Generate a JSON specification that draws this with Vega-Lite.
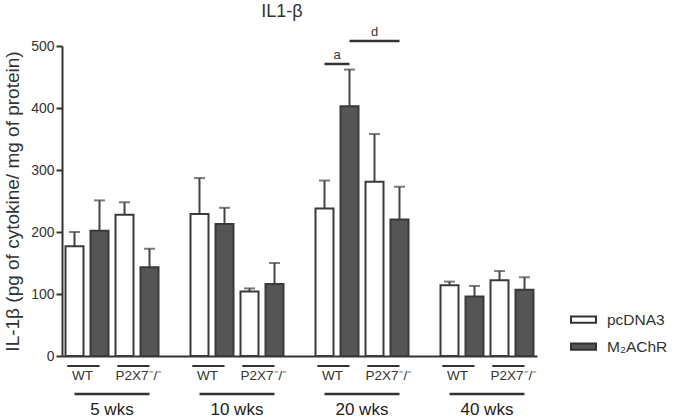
{
  "$schema": "https://vega.github.io/schema/vega-lite/v6.json",
  "background": "white",
  "padding": {"left": 3, "top": 3, "right": 5, "bottom": 0},
  "bounds": "flush",
  "spacing": 10,
  "config": {"view": {"stroke": null}, "font": "Liberation Sans", "axis": {"grid": false}},
  "title": {"text": "IL1-β", "fontSize": 18, "fontWeight": "normal", "color": "#333", "anchor": "start", "dx": 258, "offset": 5},
  "datasets": {
    "bars": [
      {"key": "5|WT|pcDNA3", "age": "5 wks", "genotype": "WT", "treatment": "pcDNA3", "mean": 177, "upper": 200},
      {"key": "5|WT|M2AChR", "age": "5 wks", "genotype": "WT", "treatment": "M₂AChR", "mean": 202, "upper": 251},
      {"key": "5|P2X7|pcDNA3", "age": "5 wks", "genotype": "P2X7-/-", "treatment": "pcDNA3", "mean": 228, "upper": 248},
      {"key": "5|P2X7|M2AChR", "age": "5 wks", "genotype": "P2X7-/-", "treatment": "M₂AChR", "mean": 143, "upper": 173},
      {"key": "10|WT|pcDNA3", "age": "10 wks", "genotype": "WT", "treatment": "pcDNA3", "mean": 229, "upper": 287},
      {"key": "10|WT|M2AChR", "age": "10 wks", "genotype": "WT", "treatment": "M₂AChR", "mean": 213, "upper": 239},
      {"key": "10|P2X7|pcDNA3", "age": "10 wks", "genotype": "P2X7-/-", "treatment": "pcDNA3", "mean": 104, "upper": 109},
      {"key": "10|P2X7|M2AChR", "age": "10 wks", "genotype": "P2X7-/-", "treatment": "M₂AChR", "mean": 116, "upper": 150},
      {"key": "20|WT|pcDNA3", "age": "20 wks", "genotype": "WT", "treatment": "pcDNA3", "mean": 238, "upper": 283},
      {"key": "20|WT|M2AChR", "age": "20 wks", "genotype": "WT", "treatment": "M₂AChR", "mean": 403, "upper": 462},
      {"key": "20|P2X7|pcDNA3", "age": "20 wks", "genotype": "P2X7-/-", "treatment": "pcDNA3", "mean": 281, "upper": 358},
      {"key": "20|P2X7|M2AChR", "age": "20 wks", "genotype": "P2X7-/-", "treatment": "M₂AChR", "mean": 220, "upper": 273},
      {"key": "40|WT|pcDNA3", "age": "40 wks", "genotype": "WT", "treatment": "pcDNA3", "mean": 114, "upper": 120},
      {"key": "40|WT|M2AChR", "age": "40 wks", "genotype": "WT", "treatment": "M₂AChR", "mean": 96, "upper": 113},
      {"key": "40|P2X7|pcDNA3", "age": "40 wks", "genotype": "P2X7-/-", "treatment": "pcDNA3", "mean": 122, "upper": 137},
      {"key": "40|P2X7|M2AChR", "age": "40 wks", "genotype": "P2X7-/-", "treatment": "M₂AChR", "mean": 107, "upper": 127}
    ],
    "sig": [
      {"label": "a", "from": "20|WT|pcDNA3", "to": "20|WT|M2AChR", "level": 471},
      {"label": "d", "from": "20|WT|M2AChR", "to": "20|P2X7|M2AChR", "level": 508}
    ],
    "groups": [
      {"level": "genotype", "label": "WT", "first": "5|WT|pcDNA3", "last": "5|WT|M2AChR"},
      {"level": "genotype", "label": "P2X7⁻/⁻", "first": "5|P2X7|pcDNA3", "last": "5|P2X7|M2AChR"},
      {"level": "genotype", "label": "WT", "first": "10|WT|pcDNA3", "last": "10|WT|M2AChR"},
      {"level": "genotype", "label": "P2X7⁻/⁻", "first": "10|P2X7|pcDNA3", "last": "10|P2X7|M2AChR"},
      {"level": "genotype", "label": "WT", "first": "20|WT|pcDNA3", "last": "20|WT|M2AChR"},
      {"level": "genotype", "label": "P2X7⁻/⁻", "first": "20|P2X7|pcDNA3", "last": "20|P2X7|M2AChR"},
      {"level": "genotype", "label": "WT", "first": "40|WT|pcDNA3", "last": "40|WT|M2AChR"},
      {"level": "genotype", "label": "P2X7⁻/⁻", "first": "40|P2X7|pcDNA3", "last": "40|P2X7|M2AChR"},
      {"level": "age", "label": "5 wks", "first": "5|WT|pcDNA3", "last": "5|P2X7|M2AChR", "mid": "5|WT|M2AChR"},
      {"level": "age", "label": "10 wks", "first": "10|WT|pcDNA3", "last": "10|P2X7|M2AChR", "mid": "10|WT|M2AChR"},
      {"level": "age", "label": "20 wks", "first": "20|WT|pcDNA3", "last": "20|P2X7|M2AChR", "mid": "20|WT|M2AChR"},
      {"level": "age", "label": "40 wks", "first": "40|WT|pcDNA3", "last": "40|P2X7|M2AChR", "mid": "40|WT|M2AChR"}
    ]
  },
  "vconcat": [
    {
      "width": 475,
      "height": 310,
      "layer": [
        {
          "data": {"name": "bars"},
          "mark": {"type": "rule", "color": "#444", "strokeWidth": 2},
          "encoding": {
            "x": {"field": "key", "type": "nominal", "sort": null,
              "scale": {"domain": ["5|WT|pcDNA3","5|WT|M2AChR","5|P2X7|pcDNA3","5|P2X7|M2AChR","gap1","10|WT|pcDNA3","10|WT|M2AChR","10|P2X7|pcDNA3","10|P2X7|M2AChR","gap2","20|WT|pcDNA3","20|WT|M2AChR","20|P2X7|pcDNA3","20|P2X7|M2AChR","gap3","40|WT|pcDNA3","40|WT|M2AChR","40|P2X7|pcDNA3","40|P2X7|M2AChR"], "paddingInner": 0.28, "paddingOuter": 0.14},
              "axis": {"title": null, "labels": false, "ticks": false, "domainColor": "#333", "domainWidth": 2}},
            "y": {"field": "mean", "type": "quantitative",
              "scale": {"domain": [0, 500], "nice": false},
              "axis": {"title": "IL-1β (pg of cytokine/ mg of protein)", "values": [0, 100, 200, 300, 400, 500], "domainColor": "#333", "domainWidth": 2, "tickColor": "#333", "tickWidth": 2, "tickSize": 6, "labelFontSize": 14, "labelColor": "#333", "labelPadding": 2, "titleFontSize": 19, "titleFontWeight": "normal", "titleColor": "#333", "titlePadding": 8.5}},
            "y2": {"field": "upper"}
          }
        },
        {
          "data": {"name": "bars"},
          "mark": {"type": "tick", "color": "#444", "thickness": 2, "size": 11, "orient": "horizontal"},
          "encoding": {
            "x": {"field": "key", "type": "nominal"},
            "y": {"field": "upper", "type": "quantitative"}
          }
        },
        {
          "data": {"name": "bars"},
          "mark": {"type": "bar", "stroke": "#3a3a3a", "strokeWidth": 2},
          "encoding": {
            "x": {"field": "key", "type": "nominal"},
            "y": {"field": "mean", "type": "quantitative"},
            "fill": {"field": "treatment", "type": "nominal",
              "scale": {"domain": ["pcDNA3", "M₂AChR"], "range": ["white", "#555555"]},
              "legend": {"title": null, "orient": "none", "legendX": 508, "legendY": 260, "symbolType": "M-1,-0.25H1V0.25H-1Z", "symbolSize": 625, "symbolStrokeColor": "#333", "symbolStrokeWidth": 2, "labelFontSize": 15.5, "labelColor": "#333", "labelOffset": 10, "rowPadding": 5, "padding": 0}}
          }
        },
        {
          "data": {"name": "sig"},
          "mark": {"type": "rule", "color": "#333", "strokeWidth": 2.5},
          "encoding": {
            "x": {"field": "from", "type": "nominal"},
            "x2": {"field": "to"},
            "y": {"field": "level", "type": "quantitative"}
          }
        },
        {
          "data": {"name": "sig"},
          "transform": [{"filter": "datum.label === 'a'"}],
          "mark": {"type": "text", "color": "#333", "fontSize": 13, "baseline": "bottom", "dy": -2},
          "encoding": {
            "x": {"field": "from", "type": "nominal", "bandPosition": 1.2},
            "y": {"field": "level", "type": "quantitative"},
            "text": {"field": "label"}
          }
        },
        {
          "data": {"name": "sig"},
          "transform": [{"filter": "datum.label === 'd'"}],
          "mark": {"type": "text", "color": "#333", "fontSize": 13, "baseline": "bottom", "dy": -2},
          "encoding": {
            "x": {"field": "from", "type": "nominal", "bandPosition": 1.89},
            "y": {"field": "level", "type": "quantitative"},
            "text": {"field": "label"}
          }
        }
      ]
    },
    {
      "width": 475,
      "height": 28,
      "data": {"name": "groups"},
      "encoding": {
        "y": {"field": "level", "type": "nominal", "scale": {"type": "point", "domain": ["genotype", "age"], "padding": 0}, "axis": null}
      },
      "layer": [
        {
          "transform": [{"filter": "datum.level === 'genotype'"}],
          "mark": {"type": "rule", "color": "#333", "strokeWidth": 2},
          "encoding": {
            "x": {"field": "first", "type": "nominal", "bandPosition": 0.1,
              "scale": {"domain": ["5|WT|pcDNA3","5|WT|M2AChR","5|P2X7|pcDNA3","5|P2X7|M2AChR","gap1","10|WT|pcDNA3","10|WT|M2AChR","10|P2X7|pcDNA3","10|P2X7|M2AChR","gap2","20|WT|pcDNA3","20|WT|M2AChR","20|P2X7|pcDNA3","20|P2X7|M2AChR","gap3","40|WT|pcDNA3","40|WT|M2AChR","40|P2X7|pcDNA3","40|P2X7|M2AChR"], "paddingInner": 0.28, "paddingOuter": 0.14},
              "axis": null},
            "x2": {"field": "last", "bandPosition": 0.5}
          }
        },
        {
          "transform": [{"filter": "datum.level === 'age'"}],
          "mark": {"type": "rule", "color": "#333", "strokeWidth": 2.5},
          "encoding": {
            "x": {"field": "first", "type": "nominal", "bandPosition": 0.5},
            "x2": {"field": "last", "bandPosition": 0.5}
          }
        },
        {
          "transform": [{"filter": "datum.label === 'WT'"}],
          "mark": {"type": "text", "color": "#333", "fontSize": 13.5, "align": "center", "baseline": "middle", "dy": 10},
          "encoding": {
            "x": {"field": "first", "type": "nominal", "bandPosition": 0.95},
            "text": {"field": "label"}
          }
        },
        {
          "transform": [{"filter": "datum.level === 'genotype' && datum.label !== 'WT'"}],
          "mark": {"type": "text", "color": "#333", "fontSize": 13.5, "align": "left", "baseline": "middle", "dy": 10},
          "encoding": {
            "x": {"field": "first", "type": "nominal", "bandPosition": 0},
            "text": {"field": "label"}
          }
        },
        {
          "transform": [{"filter": "datum.level === 'age'"}],
          "mark": {"type": "text", "color": "#222", "fontSize": 17, "align": "center", "baseline": "middle", "dy": 16},
          "encoding": {
            "x": {"field": "mid", "type": "nominal", "bandPosition": 1.19},
            "text": {"field": "label"}
          }
        }
      ]
    }
  ]
}
